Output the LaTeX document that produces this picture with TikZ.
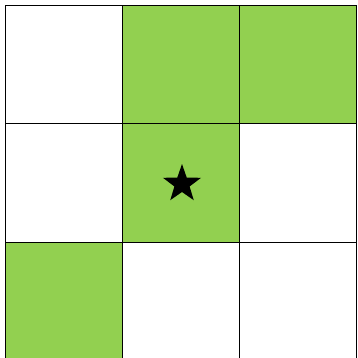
\documentclass[tikz,border=0pt]{standalone}
\usetikzlibrary{shapes.geometric}
\definecolor{cellgreen}{HTML}{92D050}
\begin{document}
\begin{tikzpicture}[x=1pt,y=-1pt,
  cell/.style={draw=black,line width=1pt},
  greencell/.style={cell,fill=cellgreen},
  starmark/.style={star,star points=5,star point ratio=2.5,fill=black,minimum size=40pt,inner sep=0pt}]
\useasboundingbox (0,0) rectangle (357,358);
\draw[cell] (5,6) rectangle (122,124);
\draw[greencell] (122,6) rectangle (239,124);
\draw[greencell] (239,6) rectangle (356,124);
\draw[cell] (5,124) rectangle (122,242);
\draw[greencell] (122,124) rectangle (239,242);
\draw[cell] (239,124) rectangle (356,242);
\draw[greencell] (5,242) rectangle (122,362);
\draw[cell] (122,242) rectangle (239,362);
\draw[cell] (239,242) rectangle (356,362);
\node[starmark] (s) at (182,184) {};
\end{tikzpicture}
\end{document}
